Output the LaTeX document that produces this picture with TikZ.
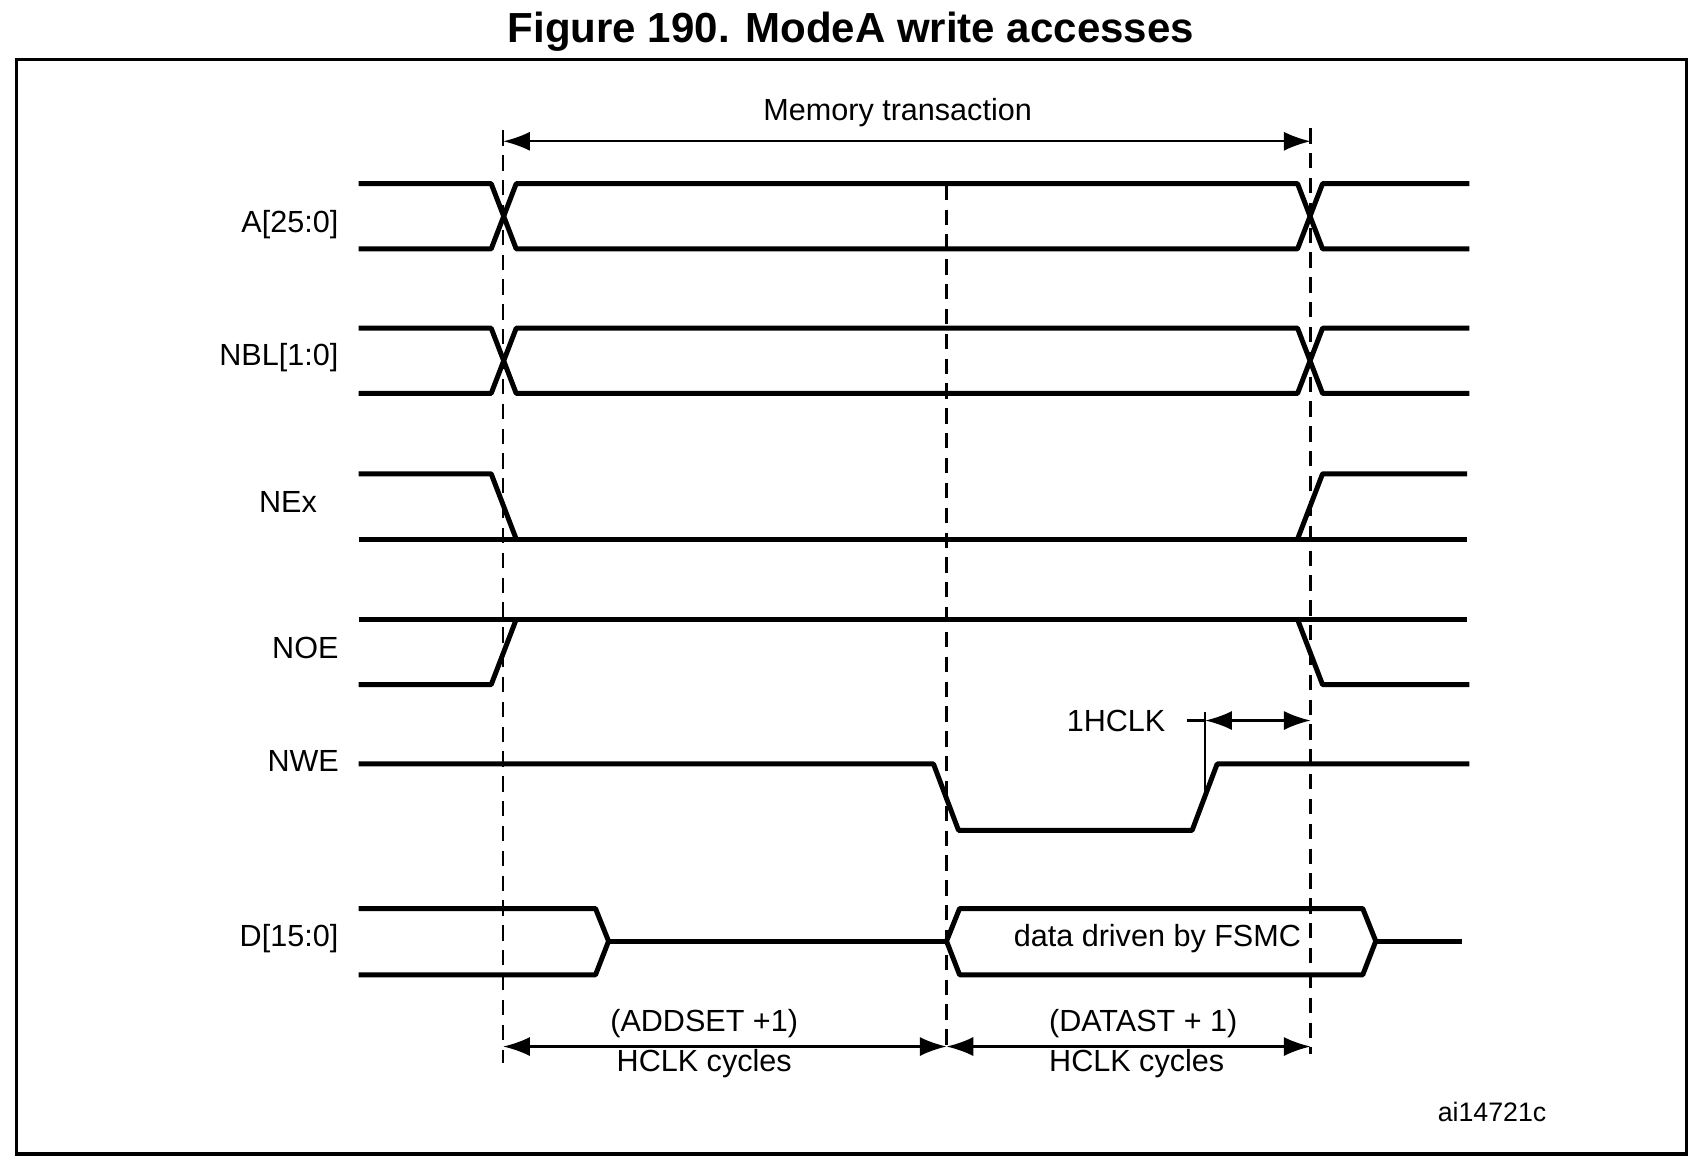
\documentclass[tikz,border=0pt]{standalone}
\usepackage{fontspec}
\setmainfont{Liberation Sans}
\usetikzlibrary{arrows.meta}
\tikzset{
  sig/.style={line width=1.3pt, line join=round},
  lbl/.style={font=\fontsize{8}{9}\selectfont, inner sep=0pt},
  dim/.style={line width=0.6pt, {Latex[length=7pt,width=5pt]}-{Latex[length=7pt,width=5pt]}},
  guide/.style={line width=0.6pt, dash pattern=on 4pt off 2.5pt}
}
\begin{document}
\begin{tikzpicture}[x=0.01cm,y=-0.01cm]
\useasboundingbox (0,0) rectangle (1568,1078);
\node[font=\bfseries\fontsize{11}{13}\selectfont] (title) at (783,29) {Figure 190. ModeA write accesses};
\draw[line width=0.9pt] (15,55) rectangle (1552,1062);

% labels
\node[lbl, anchor=east] (la) at (312,207) {A[25:0]};
\node[lbl, anchor=east] (lnbl) at (312,329) {NBL[1:0]};
\node[lbl] (lne) at (265,462) {NEx};
\node[lbl] (lnoe) at (281,596) {NOE};
\node[lbl] (lnwe) at (279,700) {NWE};
\node[lbl, anchor=east] (ld) at (312,864) {D[15:0]};

% guide lines
\draw[guide] (463,120) -- (463,978);
\draw[guide] (871,170) -- (871,970);
\draw[guide] (1206,118) -- (1206,970);

% A and NBL buses
\foreach \t/\b in {169/229, 302/362}{
  \draw[sig] (330,\t) -- (452,\t) -- (475,\b) -- (1194,\b) -- (1217,\t) -- (1352,\t);
  \draw[sig] (330,\b) -- (452,\b) -- (475,\t) -- (1194,\t) -- (1217,\b) -- (1352,\b);
}

% NEx
\draw[sig] (330,436) -- (452,436) -- (475,496);
\draw[sig] (330,496) -- (1350,496);
\draw[sig] (1194,496) -- (1217,436) -- (1350,436);

% NOE
\draw[sig] (330,570) -- (1350,570);
\draw[sig] (330,630) -- (452,630) -- (475,570);
\draw[sig] (1194,570) -- (1217,630) -- (1352,630);

% NWE
\draw[sig] (330,703) -- (859,703) -- (882,764) -- (1097,764) -- (1120,703) -- (1352,703);

% D
\draw[sig] (330,836) -- (548,836) -- (560,866) -- (548,897) -- (330,897);
\draw[sig] (560,866) -- (871,866);
\draw[sig] (1266,866) -- (1345,866);
\draw[sig] (871,866) -- (883,836) -- (1254,836) -- (1266,866) -- (1254,897) -- (883,897) -- cycle;
\node[lbl] (data) at (1065,864) {data driven by FSMC};

% dimensions
\coordinate (mt1) at (463,130);
\coordinate (mt2) at (1206,130);
\draw[dim] (mt1) -- (mt2);
\node[lbl] (memtr) at (826,104) {Memory transaction};

\coordinate (hc1) at (1109,663);
\coordinate (hc2) at (1206,663);
\draw[line width=0.6pt] (1109,655) -- (1109,730);
\draw[line width=0.6pt] (1092,663) -- (hc1);
\draw[dim] (hc1) -- (hc2);
\node[lbl] (hclk) at (1027,663) {1HCLK};

\coordinate (b1) at (463,963);
\coordinate (b2) at (871,963);
\coordinate (b3) at (1206,963);
\draw[dim] (b1) -- (b2);
\draw[dim] (b2) -- (b3);
\node[lbl] (addset) at (648,942) {(ADDSET +1)};
\node[lbl] (hca) at (648,979) {HCLK cycles};
\node[lbl] (datast) at (1052,942) {(DATAST + 1)};
\node[lbl] (hcd) at (1046,979) {HCLK cycles};

\node[font=\fontsize{7}{8}\selectfont, inner sep=0pt] (ref) at (1373,1023) {ai14721c};
\end{tikzpicture}
\end{document}
